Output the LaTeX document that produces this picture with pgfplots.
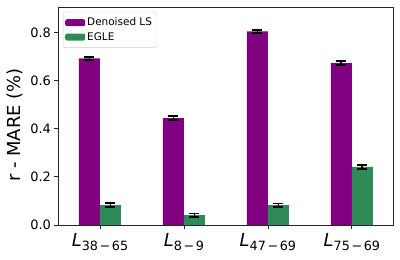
\documentclass[border=0pt]{standalone}
\usepackage{pgfplots}
\pgfplotsset{compat=1.18}
\usepackage{fontspec}
\setmainfont{DejaVu Sans}
\definecolor{mpurple}{HTML}{800080}
\definecolor{mgreen}{HTML}{2E8B57}
\definecolor{spine}{HTML}{262626}
\newcommand{\Lab}[2]{{\fontsize{18}{18}\selectfont\textit{L}}\raisebox{-3.8bp}{\fontsize{12.8}{12.8}\selectfont #1\kern1.6bp−\kern1.6bp#2}}
\begin{document}
\begin{tikzpicture}
\path[use as bounding box] (-58bp,-35bp) rectangle (342bp,225bp);
\begin{axis}[
  at={(0,0)}, anchor=south west,
  scale only axis, width=335bp, height=218bp,
  xmin=-0.5, xmax=3.49, ymin=0, ymax=0.905,
  xtick={0,1,2,3},
  xticklabels={\Lab{38}{65},\Lab{8}{9},\Lab{47}{69},\Lab{75}{69}},
  ytick={0,0.2,0.4,0.6,0.8},
  yticklabel style={/pgf/number format/fixed,/pgf/number format/fixed zerofill,/pgf/number format/precision=1,font=\fontsize{13}{13}\selectfont},
  /pgf/number format/assume math mode=true,
  tick align=outside, tick pos=left,
  major tick length=3.5bp,
  every tick/.style={spine, line width=0.8bp},
  axis line style={spine, line width=0.8bp},
  xticklabel style={anchor=north, yshift=-1.5bp},
  ylabel={r - MARE (\%)},
  every axis y label/.style={at={(axis description cs:-0.1284,0.4587)}, rotate=90, anchor=center, font=\fontsize{18}{18}\selectfont},
  ybar, bar width=21bp,
  legend style={at={(axis description cs:0.015,0.978)}, anchor=north west, draw=black!20, rounded corners=2bp, font=\fontsize{10.5}{10.5}\selectfont, inner xsep=2bp, inner ysep=4bp, row sep=1bp, cells={anchor=west}},
  legend image code/.code={\fill[#1] (0bp,-3.5bp) rectangle (20bp,3.5bp);},
]
\addplot[fill=mpurple, draw=none, bar shift=-10.5bp,
  error bars/.cd, y dir=both, y explicit,
  error bar style={black, line width=1.8bp},
  error mark options={rotate=90, mark size=5bp, line width=1.8bp, black}]
  coordinates {(0,0.692) +- (0,0.007) (1,0.444) +- (0,0.007) (2,0.804) +- (0,0.006) (3,0.672) +- (0,0.008)};
\addlegendentry{Denoised LS}
\addplot[fill=mgreen, draw=none, bar shift=10.5bp,
  error bars/.cd, y dir=both, y explicit,
  error bar style={black, line width=1.8bp},
  error mark options={rotate=90, mark size=5bp, line width=1.8bp, black}]
  coordinates {(0,0.083) +- (0,0.007) (1,0.041) +- (0,0.007) (2,0.082) +- (0,0.007) (3,0.241) +- (0,0.008)};
\addlegendentry{EGLE}
\end{axis}
\end{tikzpicture}
\end{document}
